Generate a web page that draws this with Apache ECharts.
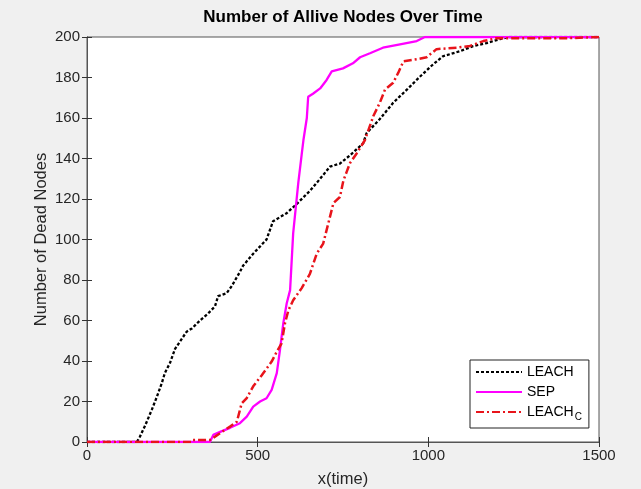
<!DOCTYPE html>
<html>
<head>
<meta charset="utf-8">
<script src="https://cdn.jsdelivr.net/npm/echarts@6/dist/echarts.min.js"></script>
<style>
html,body{margin:0;padding:0;background:#f0f0f0;}
#chart{width:641px;height:489px;}
</style>
</head>
<body>
<div id="chart"></div>
<script>
// ---- data ----
const xTicks = [0, 500, 1000, 1500];
const yTicks = [0, 20, 40, 60, 80, 100, 120, 140, 160, 180, 200];

const leachX = [0, 146, 155, 170, 190, 204, 219, 228, 243, 258, 272, 292, 307, 331, 355, 375, 384, 409, 424, 448, 457, 487, 526, 545, 585, 614, 653, 683, 712, 741, 770, 809, 819, 858, 897, 937, 976, 1014, 1043, 1093, 1131, 1171, 1210, 1235, 1500];
const leachY = [0, 0, 2.6, 8, 16, 22, 29, 34, 39, 46, 49.5, 54.5, 56, 60, 63.5, 67, 72, 73.5, 77, 84, 87, 93, 100, 109, 113, 117.5, 124, 130, 136, 137.5, 141.5, 147.5, 152.5, 159.5, 167.5, 174, 180.5, 186.5, 190.5, 193, 195.5, 197, 199, 200, 200];

const sepX = [0, 360, 370, 390, 419, 448, 468, 487, 507, 526, 541, 556, 565, 575, 585, 595, 604, 619, 629, 634, 644, 648, 662, 683, 702, 717, 750, 779, 800, 829, 867, 917, 966, 990, 1500];
const sepY = [0, 0, 3.5, 5, 7, 9.3, 12.5, 17.5, 20, 21.6, 25.7, 34, 45, 58.6, 68.4, 75, 103, 128, 142, 149, 160, 170.5, 172, 174.6, 178.8, 183, 184.5, 187, 190, 192, 194.7, 196.4, 198, 200, 200];

const leachcX = [0, 305, 310, 360, 370, 390, 419, 439, 453, 468, 487, 512, 541, 556, 570, 580, 590, 604, 629, 653, 673, 692, 707, 722, 741, 751, 761, 770, 790, 814, 839, 858, 873, 897, 912, 927, 966, 995, 1024, 1083, 1122, 1161, 1200, 1405, 1410, 1500];
const leachcY = [0, 0, 1, 1, 2, 4.4, 7.6, 10, 19, 21.7, 27.5, 33, 39.7, 44.6, 48.7, 58.6, 65, 70, 76, 83, 93, 98, 108, 118, 121, 129, 133.5, 137.6, 142.5, 149, 161, 167.6, 174, 177.4, 182.4, 188, 189, 190, 194, 194.7, 195.6, 198, 199.4, 199.4, 200, 200];

const seriesNames = ['LEACH', 'SEP', 'LEACH_C'];

function zip(xs, ys) { return xs.map((x, i) => [x, ys[i]]); }

const FONT = '"Liberation Sans", Arial, Helvetica, sans-serif';
const chart = echarts.init(document.getElementById('chart'), null, {renderer: 'canvas'});

const baseAxis = {
  axisLine: {show: true, lineStyle: {color: '#555', width: 1}},
  axisTick: {show: true, inside: true, length: 5, lineStyle: {color: '#333'}},
  splitLine: {show: false}
};
const plainLabel = function (v) { return String(v); };

chart.setOption({
  backgroundColor: '#f0f0f0',
  animation: false,
  title: {
    text: 'Number of Allive Nodes Over Time',
    left: 343,
    textAlign: 'center',
    top: 9,
    padding: 0,
    textStyle: {fontFamily: FONT, fontSize: 17, fontWeight: 'bold', color: '#000'}
  },
  grid: {left: 87, right: 42, top: 37, bottom: 47, show: true, backgroundColor: '#fff', borderColor: '#555', borderWidth: 1, containLabel: false, outerBoundsMode: 'none'},
  legend: {
    orient: 'vertical',
    left: 470,
    top: 360,
    padding: [5, 7, 6, 5],
    itemWidth: 46,
    itemHeight: 14,
    itemGap: 6,
    backgroundColor: '#fff',
    borderColor: '#222',
    borderWidth: 1,
    data: seriesNames,
    itemStyle: {opacity: 0},
    formatter: function (name) {
      return name === 'LEACH_C' ? '{a|LEACH}{s|C}' : '{a|' + name + '}';
    },
    textStyle: {
      fontFamily: FONT, fontSize: 14, color: '#000',
      rich: {
        a: {fontFamily: FONT, fontSize: 14, color: '#000'},
        s: {fontFamily: FONT, fontSize: 10, color: '#000', padding: [10, 0, 0, 1]}
      }
    }
  },
  xAxis: [
    Object.assign({}, baseAxis, {
      type: 'value', min: xTicks[0], max: xTicks[xTicks.length - 1], interval: xTicks[1] - xTicks[0],
      position: 'bottom',
      name: 'x(time)', nameLocation: 'middle', nameGap: 29, nameMoveOverlap: false,
      nameTextStyle: {fontFamily: FONT, fontSize: 16.5, color: '#262626'},
      axisLabel: {fontFamily: FONT, fontSize: 15, color: '#262626', margin: 6, formatter: plainLabel}
    }),
    Object.assign({}, baseAxis, {
      type: 'value', min: xTicks[0], max: xTicks[xTicks.length - 1], interval: xTicks[1] - xTicks[0],
      position: 'top', axisLabel: {show: false}
    })
  ],
  yAxis: [
    Object.assign({}, baseAxis, {
      type: 'value', min: yTicks[0], max: yTicks[yTicks.length - 1], interval: yTicks[1] - yTicks[0],
      position: 'left',
      name: 'Number of Dead Nodes', nameLocation: 'middle', nameGap: 37, nameMoveOverlap: false,
      nameTextStyle: {fontFamily: FONT, fontSize: 16.5, color: '#262626'},
      axisLabel: {fontFamily: FONT, fontSize: 15, color: '#262626', margin: 7, formatter: plainLabel}
    }),
    Object.assign({}, baseAxis, {
      type: 'value', min: yTicks[0], max: yTicks[yTicks.length - 1], interval: yTicks[1] - yTicks[0],
      position: 'right', axisLabel: {show: false}
    })
  ],
  series: [
    {
      name: seriesNames[0], type: 'line', symbol: 'none', data: zip(leachX, leachY),
      lineStyle: {color: '#000', width: 2.3, type: [3, 2]}, itemStyle: {color: '#000'}
    },
    {
      name: seriesNames[1], type: 'line', symbol: 'none', data: zip(sepX, sepY),
      lineStyle: {color: '#ff00ff', width: 2.3, type: 'solid'}, itemStyle: {color: '#ff00ff'}
    },
    {
      name: seriesNames[2], type: 'line', symbol: 'none', data: zip(leachcX, leachcY),
      lineStyle: {color: '#e8141b', width: 2.5, type: [8, 3, 2, 3]}, itemStyle: {color: '#e8141b'}
    }
  ]
});
</script>
</body>
</html>
